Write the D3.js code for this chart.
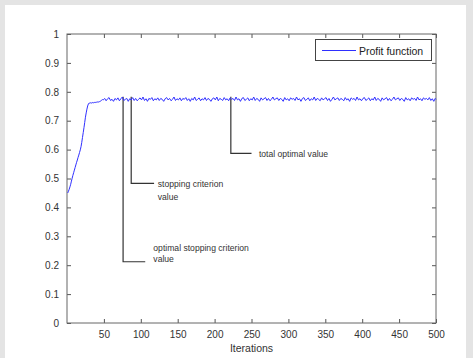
<!DOCTYPE html>
<html><head><meta charset="utf-8">
<script src="https://cdn.jsdelivr.net/npm/d3@7/dist/d3.min.js"></script>
<style>
html,body{margin:0;padding:0;background:#e4e4e4;}
svg{display:block;}
</style></head>
<body>
<svg id="c" width="473" height="358"></svg>
<script>
// ---- data ----
const rampIter = d3.range(1, 51);
const rampValues = [0.450,0.456,0.463,0.471,0.480,0.491,0.501,0.511,0.520,0.529,
0.538,0.547,0.556,0.564,0.573,0.581,0.590,0.599,0.610,0.625,
0.642,0.659,0.676,0.694,0.712,0.727,0.740,0.751,0.758,0.761,
0.761,0.762,0.761,0.762,0.763,0.762,0.763,0.764,0.763,0.764,
0.765,0.764,0.765,0.766,0.767,0.769,0.771,0.773,0.772,0.774];
const plateauValues = [
0.777,0.769,0.776,0.780,0.770,0.774,0.767,0.777,0.772,0.779,
0.769,0.776,0.782,0.770,0.774,0.777,0.767,0.776,0.772,0.780,
0.770,0.777,0.769,0.774,0.779,0.772,0.782,0.770,0.776,0.767,
0.777,0.774,0.780,0.769,0.776,0.772,0.779,0.770,0.777,0.774,
0.767,0.776,0.780,0.772,0.777,0.769,0.774,0.782,0.770,0.776,
0.772,0.779,0.769,0.777,0.774,0.780,0.770,0.776,0.767,0.777,
0.772,0.782,0.770,0.774,0.779,0.769,0.776,0.772,0.780,0.770,
0.777,0.774,0.767,0.776,0.779,0.772,0.782,0.769,0.777,0.774,
0.770,0.780,0.772,0.776,0.769,0.779,0.774,0.777,0.770,0.782,
0.772,0.776,0.767,0.777,0.780,0.770,0.774,0.779,0.769,0.776,
0.772,0.782,0.770,0.777,0.774,0.767,0.779,0.772,0.776,0.780,
0.770,0.777,0.769,0.774,0.782,0.772,0.776,0.779,0.770,0.777,
0.774,0.767,0.780,0.772,0.776,0.769,0.779,0.774,0.777,0.770,
0.782,0.772,0.776,0.767,0.777,0.780,0.770,0.774,0.779,0.769,
0.776,0.772,0.782,0.770,0.777,0.774,0.769,0.779,0.772,0.776,
0.780,0.770,0.777,0.767,0.774,0.782,0.772,0.776,0.779,0.770,
0.777,0.774,0.769,0.780,0.772,0.776,0.767,0.779,0.774,0.777,
0.770,0.782,0.772,0.776,0.769,0.777,0.780,0.770,0.774,0.779,
0.769,0.776,0.772,0.782,0.770,0.777,0.774,0.767,0.779,0.772,
0.776,0.780,0.770,0.777,0.769,0.774,0.782,0.772,0.776,0.779,
0.770,0.777,0.774,0.767,0.780,0.772,0.776,0.769,0.779,0.774,
0.777,0.770,0.782,0.772,0.776,0.769,0.779,0.774,0.777,0.772,
0.780,0.770,0.776,0.767,0.777,0.774];
const plateauIter = d3.range(51, 501, 2).concat([500]);
const xTicks = [50,100,150,200,250,300,350,400,450,500];
const yTicks = [0,0.1,0.2,0.3,0.4,0.5,0.6,0.7,0.8,0.9,1];
const seriesName = "Profit function";
const xLabel = "Iterations";
// annotations: iteration of marker, elbow value, end of leader, text lines
const annotations = [
  {iter:76,  top:0.783, elbow:0.212, end:106, textIter:117, lines:["optimal stopping criterion","value"], textY:[0.248,0.210]},
  {iter:87,  top:0.783, elbow:0.483, end:118, textIter:123, lines:["stopping criterion","value"], textY:[0.472,0.427]},
  {iter:222, top:0.783, elbow:0.587, end:250, textIter:260, lines:["total optimal value"], textY:[0.576]}
];

// ---- drawing ----
const svg = d3.select("#c");
svg.append("rect").attr("x",5).attr("y",5).attr("width",461).attr("height",353).attr("fill","#fff");

const L=67, R=436, T=34, B=323;
const x = d3.scaleLinear().domain([0,500]).range([L,R]);
const y = d3.scaleLinear().domain([0,1]).range([B,T]);

const data = rampIter.map((d,i)=>[d,rampValues[i]])
  .concat(plateauIter.slice(0,plateauValues.length).map((d,i)=>[d,plateauValues[i]]));

const font = "Liberation Sans, Arial, sans-serif";
const axisCol = "#555";

function styleAxis(g, hideLabels){
  g.select(".domain").remove();
  g.selectAll(".tick line").attr("stroke",axisCol);
  g.selectAll(".tick text").attr("fill","#333").style("font-family",font).style("font-size","10px");
  if(hideLabels) g.selectAll(".tick text").remove();
}
// bottom
svg.append("g").attr("transform",`translate(0,${B})`)
  .call(d3.axisBottom(x).tickValues(xTicks).tickSizeInner(-4).tickSizeOuter(0).tickPadding(8).tickFormat(d3.format("d")))
  .call(g=>styleAxis(g,false));
// top
svg.append("g").attr("transform",`translate(0,${T})`)
  .call(d3.axisTop(x).tickValues(xTicks).tickSizeInner(-4).tickSizeOuter(0))
  .call(g=>styleAxis(g,true));
// left
svg.append("g").attr("transform",`translate(${L},0)`)
  .call(d3.axisLeft(y).tickValues(yTicks).tickSizeInner(-4).tickSizeOuter(0).tickPadding(8).tickFormat(d=>d===0||d===1?d3.format("d")(d):d3.format(".1f")(d)))
  .call(g=>styleAxis(g,false));
// right
svg.append("g").attr("transform",`translate(${R},0)`)
  .call(d3.axisRight(y).tickValues(yTicks).tickSizeInner(-4).tickSizeOuter(0))
  .call(g=>styleAxis(g,true));

svg.append("rect").attr("x",L).attr("y",T).attr("width",R-L).attr("height",B-T)
  .attr("fill","none").attr("stroke","#666").attr("stroke-width",1);

// annotations
annotations.forEach(a=>{
  svg.append("path")
    .attr("d",`M${x(a.iter)},${y(a.top)}V${y(a.elbow)}H${x(a.end)}`)
    .attr("fill","none").attr("stroke","#333").attr("stroke-width",1.2);
  a.lines.forEach((t,i)=>{
    svg.append("text").attr("x",x(a.textIter)).attr("y",y(a.textY[i]))
      .attr("fill","#333").style("font-family",font).style("font-size","8.6px").text(t);
  });
});

// series line
svg.append("path").datum(data)
  .attr("d",d3.line().x(d=>x(d[0])).y(d=>y(d[1])))
  .attr("fill","none").attr("stroke","#2f2fff").attr("stroke-width",1);

// legend
const lg = svg.append("g");
lg.append("rect").attr("x",315.5).attr("y",39.5).attr("width",116).attr("height",21)
  .attr("fill","#fff").attr("stroke","#444").attr("stroke-width",1);
lg.append("line").attr("x1",322).attr("x2",356).attr("y1",50.5).attr("y2",50.5)
  .attr("stroke","#2f2fff").attr("stroke-width",1);
lg.append("text").attr("x",359).attr("y",54.5).attr("fill","#222")
  .style("font-family",font).style("font-size","10.5px").text(seriesName);

// x label
svg.append("text").attr("x",(L+R)/2).attr("y",352).attr("text-anchor","middle")
  .attr("fill","#333").style("font-family",font).style("font-size","10.5px").text(xLabel);
</script>
</body></html>
